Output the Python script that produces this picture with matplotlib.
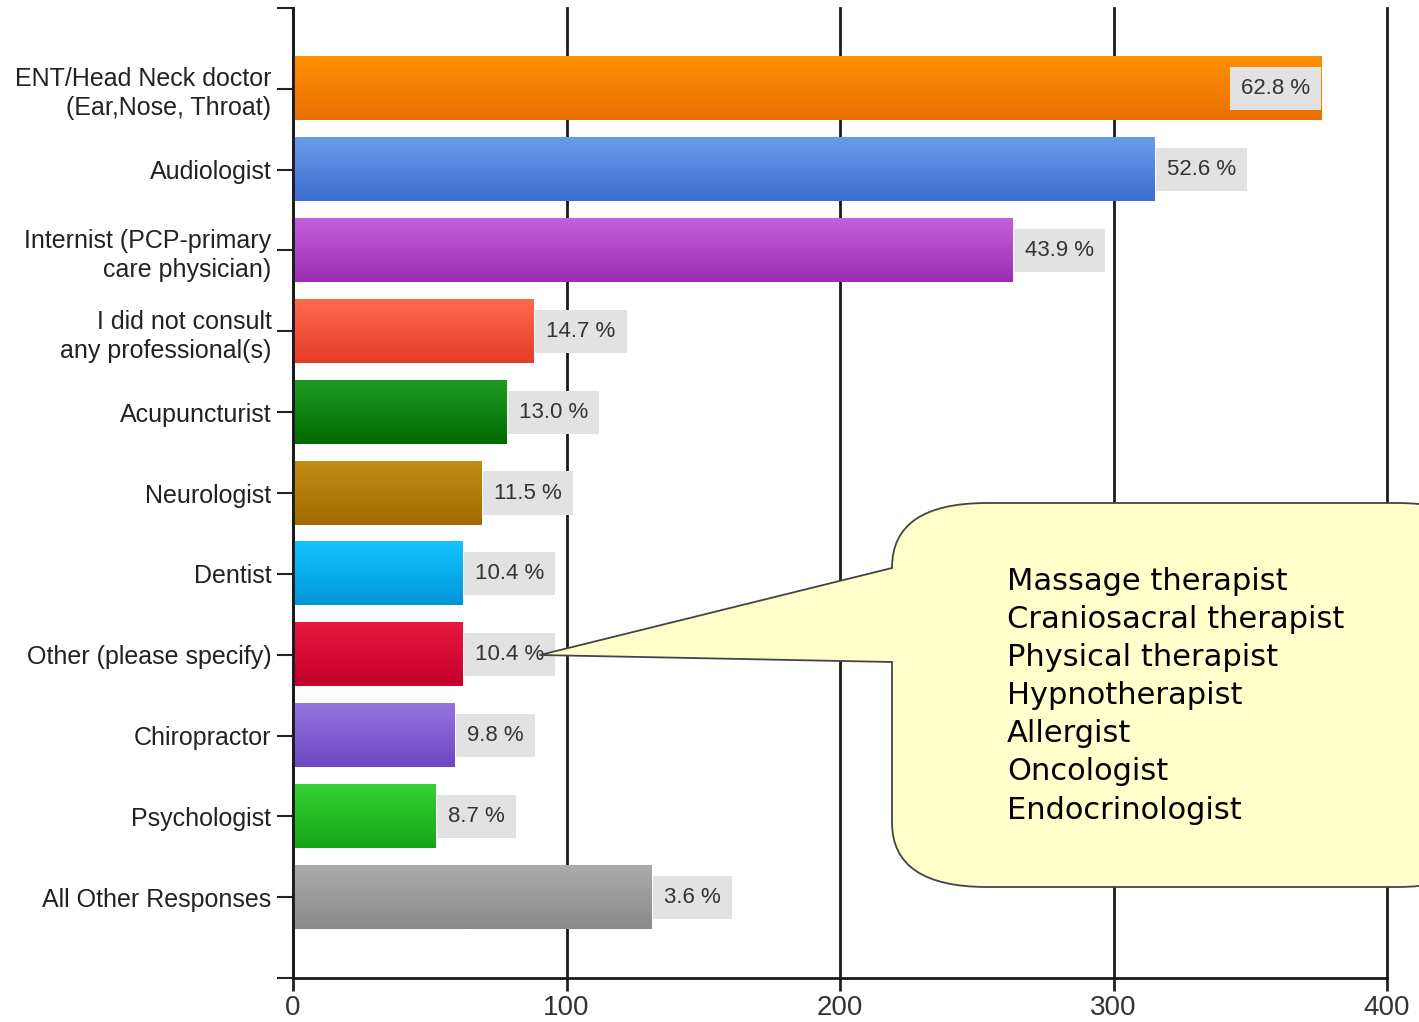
import matplotlib.pyplot as plt
import numpy as np
from matplotlib.colors import to_rgb
from matplotlib.patches import FancyBboxPatch, Polygon

# data
categories = ['ENT/Head Neck doctor\n(Ear,Nose, Throat)', 'Audiologist',
              'Internist (PCP-primary\ncare physician)', 'I did not consult\nany professional(s)',
              'Acupuncturist', 'Neurologist', 'Dentist', 'Other (please specify)',
              'Chiropractor', 'Psychologist', 'All Other Responses']
counts = [376, 315, 263, 88, 78, 69, 62, 62, 59, 52, 131]
pct_labels = ['62.8 %', '52.6 %', '43.9 %', '14.7 %', '13.0 %', '11.5 %',
              '10.4 %', '10.4 %', '9.8 %', '8.7 %', '3.6 %']
x_ticks = [0, 100, 200, 300, 400]
other_list = ['Massage therapist', 'Craniosacral therapist', 'Physical therapist',
              'Hypnotherapist', 'Allergist', 'Oncologist', 'Endocrinologist']

top_colors = ['#ff9000', '#6a9be8', '#c460dc', '#ff6a4c', '#1f9a1f', '#c08e14',
              '#14c4ff', '#e81840', '#9474e0', '#34d234', '#ababab']
bottom_colors = ['#e87000', '#3e6ed0', '#9c2cb0', '#e43c28', '#006a00', '#a06a00',
                 '#0096d8', '#c4002a', '#6c48c0', '#16a416', '#8a8a8a']

W, H = 1419, 1022
fig = plt.figure(figsize=(W / 100, H / 100), dpi=100)
ax = fig.add_axes([293 / W, 1 - 978 / H, (1387 - 293) / W, (978 - 8) / H])

y = np.arange(len(categories))
bars = ax.barh(y, counts, height=0.78, color=bottom_colors, zorder=2)

# vertical gradient on each bar
for bar, c_top, c_bot in zip(bars, top_colors, bottom_colors):
    x0, yc, w, h = bar.get_x(), bar.get_y(), bar.get_width(), bar.get_height()
    grad = np.linspace(to_rgb(c_top), to_rgb(c_bot), 64).reshape(64, 1, 3)
    ax.imshow(grad, extent=(x0, x0 + w, yc + h, yc), origin='upper',
              aspect='auto', zorder=2.5, interpolation='bilinear')

# percentage boxes
font = ['Liberation Sans', 'DejaVu Sans']
for i, (c, lab) in enumerate(zip(counts, pct_labels)):
    inside = c == max(counts)
    ax.annotate(lab, (c, i), xytext=(-8, 0) if inside else (9, 0),
                textcoords='offset points', ha='right' if inside else 'left',
                va='center', fontsize=16, color='#333333', family=font, zorder=4,
                bbox=dict(boxstyle='square,pad=0.5', fc='#e2e2e2', ec='none'))

ax.set_xlim(0, 400)
ax.set_ylim(len(categories), -1)
ax.set_xticks(x_ticks)
ax.set_xticklabels([str(t) for t in x_ticks], fontsize=20, family=font, color='#333333')
ax.set_yticks(y)
ax.set_yticklabels(categories, fontsize=18, family=font, color='#222222', linespacing=1.25)
ax.set_yticks([-1, len(categories)], minor=True)
ax.tick_params(axis='y', which='both', length=11.5, width=1.5, color='#222222', pad=4)
ax.tick_params(axis='x', length=9, width=2, color='#222222', pad=3)

ax.grid(axis='x', color='#1a1a1a', lw=2, zorder=1)
for gl in ax.get_xgridlines():
    gl.set_clip_on(False)
ax.set_axisbelow(True)
for s in ['top', 'right']:
    ax.spines[s].set_visible(False)
for s in ['left', 'bottom']:
    ax.spines[s].set_linewidth(2)
    ax.spines[s].set_color('#1a1a1a')

# callout bubble, drawn on a pixel-space overlay
ov = fig.add_axes([0, 0, 1, 1], zorder=10)
ov.set_xlim(0, W)
ov.set_ylim(H, 0)
ov.axis('off')
ov.patch.set_alpha(0)

bubble = FancyBboxPatch((892, 503), 600, 384, boxstyle='round,pad=0,rounding_size=95',
                        mutation_aspect=0.68, fc='#ffffcc', ec='#444444', lw=1.3)
ov.add_patch(bubble)
tip = (540, 655)
ov.add_patch(Polygon([(893, 568), tip, (893, 662), (898, 662), (898, 568)],
                     closed=True, fc='#ffffcc', ec='none', zorder=3))
ov.plot([892, tip[0], 892], [568, tip[1], 662], color='#444444', lw=1.3, zorder=4)

ov.text(1007, 567, '\n'.join(other_list), ha='left', va='top', fontsize=22,
        family='DejaVu Sans', color='black', linespacing=1.395)

fig.savefig('out.png', dpi=100)
